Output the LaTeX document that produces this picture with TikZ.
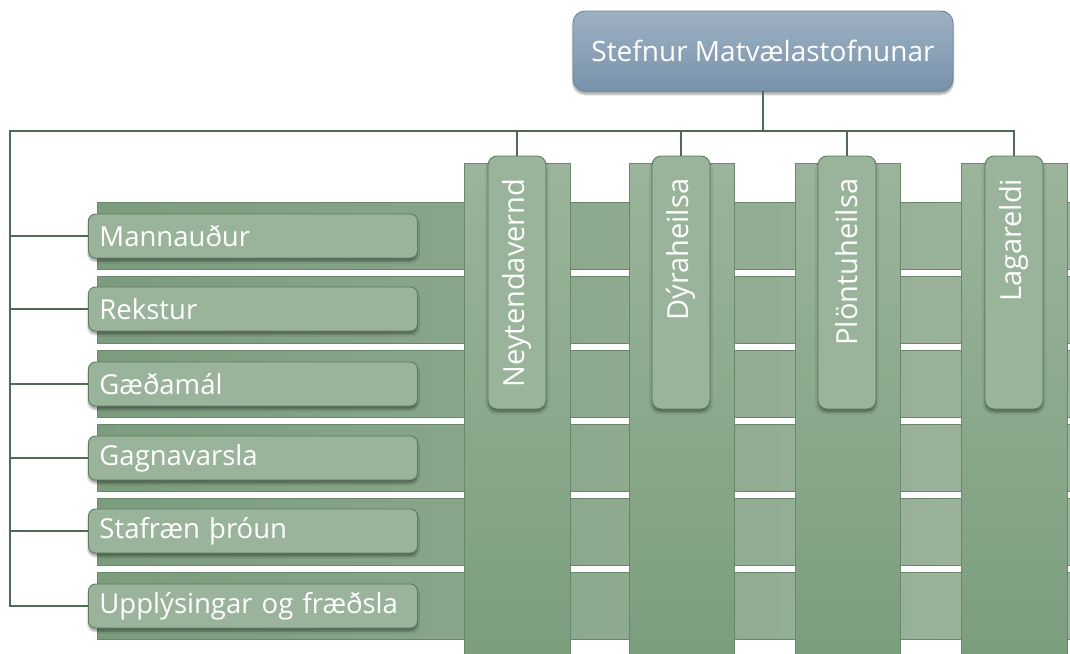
\documentclass[tikz,border=0pt]{standalone}
\usepackage{fontspec}
\setmainfont{Open Sans}
\usetikzlibrary{shadows,shadows.blur,positioning}

\definecolor{wireGreen}{HTML}{4F6B51}
\definecolor{edgeGreen}{HTML}{6A866B}
\definecolor{bandDark}{HTML}{7C9C7E}
\definecolor{bandLight}{HTML}{9DB59D}
\definecolor{pillarLight}{HTML}{9BB49B}
\definecolor{pillarDark}{HTML}{7B9E7D}
\definecolor{boxGreen}{HTML}{9AB49B}
\definecolor{boxEdge}{HTML}{5E7B60}
\definecolor{headTop}{HTML}{9EB1C3}
\definecolor{headBottom}{HTML}{7892AB}
\definecolor{headEdge}{HTML}{6B8399}

\begin{document}
\begin{tikzpicture}[x=1pt, y=-1pt,
  wire/.style={draw=wireGreen, line width=1.4pt},
  band/.style={draw=edgeGreen, line width=0.7pt, left color=bandDark, right color=bandLight},
  pillar/.style={draw=edgeGreen, line width=0.7pt, top color=pillarLight, bottom color=pillarDark},
  rowbox/.style={draw=boxEdge, line width=0.9pt, fill=boxGreen, rounded corners=7pt,
    blur shadow={shadow xshift=0pt, shadow yshift=-3pt, shadow blur steps=6},
    minimum width=329pt, minimum height=44pt, text width=307pt, inner xsep=11pt,
    align=left, text=white, font=\fontsize{27.5}{30}\selectfont, anchor=west},
  colbox/.style={draw=boxEdge, line width=0.9pt, fill=boxGreen, rounded corners=9pt,
    blur shadow={shadow xshift=0pt, shadow yshift=-3pt, shadow blur steps=6},
    minimum width=58pt, minimum height=253pt},
  coltext/.style={rotate=90, anchor=east, text=white, inner sep=0pt, font=\fontsize{29}{32}\selectfont},
  headbox/.style={draw=headEdge, line width=0.9pt, top color=headTop, bottom color=headBottom,
    rounded corners=12pt, blur shadow={shadow xshift=0pt, shadow yshift=-3pt, shadow blur steps=6},
    minimum width=380pt, minimum height=80pt, text=white, font=\fontsize{28}{30}\selectfont}]

\useasboundingbox (0,0) rectangle (1070,653);

% bands behind everything
\draw[band] (97,202) rectangle (1071,269);
\draw[band] (97,276) rectangle (1071,343);
\draw[band] (97,350) rectangle (1071,417);
\draw[band] (97,424) rectangle (1071,491);
\draw[band] (97,498) rectangle (1071,565);
\draw[band] (97,572) rectangle (1071,639);

% tall columns
\draw[pillar] (464,163) rectangle (570,654);
\draw[pillar] (629,163) rectangle (734,654);
\draw[pillar] (795,163) rectangle (900,654);
\draw[pillar] (961,163) rectangle (1067,654);

% head
\node[headbox] (head) at (763,51) {Stefnur Matvælastofnunar};

% row boxes
\node[rowbox] (r1) at (88,236) {Mannauður};
\node[rowbox] (r2) at (88,309) {Rekstur};
\node[rowbox] (r3) at (88,384) {Gæðamál};
\node[rowbox] (r4) at (88,458) {Gagnavarsla};
\node[rowbox] (r5) at (88,531) {Stafræn þróun};
\node[rowbox] (r6) at (88,606) {Upplýsingar og fræðsla};

% column boxes
\node[colbox] (c1) at (517,282.5) {};
\node[colbox] (c2) at (681,282.5) {};
\node[colbox] (c3) at (847,282.5) {};
\node[colbox] (c4) at (1014,282.5) {};
\node[coltext] (t1) at ([yshift=-23pt]c1.north) {Neytendavernd};
\node[coltext] (t2) at ([yshift=-23pt]c2.north) {Dýraheilsa};
\node[coltext] (t3) at ([yshift=-23pt]c3.north) {Plöntuheilsa};
\node[coltext] (t4) at ([yshift=-23pt]c4.north) {Lagareldi};

% connectors
\coordinate (bus) at (10,131);
\draw[wire] (head.south) -- (head.south |- bus);
\draw[wire] (r6.west) -- (bus |- r6.west) -- (bus) -- (c4.north |- bus) -- (c4.north);
\draw[wire] (bus |- r1.west) -- (r1.west);
\draw[wire] (bus |- r2.west) -- (r2.west);
\draw[wire] (bus |- r3.west) -- (r3.west);
\draw[wire] (bus |- r4.west) -- (r4.west);
\draw[wire] (bus |- r5.west) -- (r5.west);
\draw[wire] (c1.north |- bus) -- (c1.north);
\draw[wire] (c2.north |- bus) -- (c2.north);
\draw[wire] (c3.north |- bus) -- (c3.north);

\end{tikzpicture}
\end{document}
